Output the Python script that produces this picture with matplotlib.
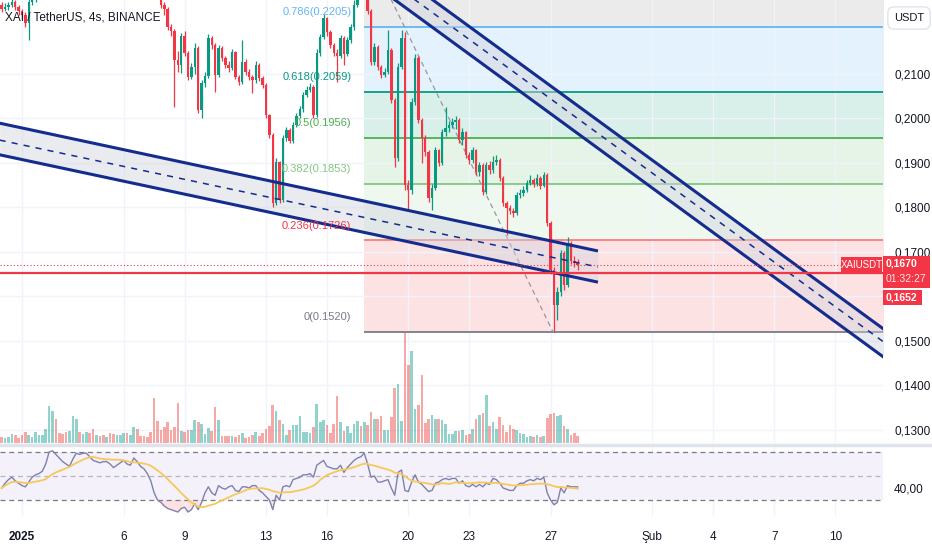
# -*- coding: utf-8 -*-
"""
XAI / TetherUS 4s grafiği: mumlar, hacim, fibonacci seviyeleri, iki kanal ve RSI.
"""
import numpy as np
import pandas as pd
import matplotlib
matplotlib.use("Agg")
import matplotlib.pyplot as plt
from matplotlib.lines import Line2D
from matplotlib.patches import Rectangle

plt.rcParams["font.family"] = ["Liberation Sans", "DejaVu Sans"]

W, H = 932, 550

# 4 saatlik mumlar, 31 Ara 00:00'dan 28 Oca 08:00'e
first_open = 0.2255
closes = [
    .2245, .2250, .2254, .2262, .2250, .2240, .2232, .2215, .2262, .2270,
    .2280, .2290, .2300, .2330, .2400, .2450, .2430, .2415, .2400, .2390,
    .2400, .2450, .2490, .2475, .2485, .2495, .2480, .2465, .2470, .2460,
    .2455, .2465, .2450, .2440, .2450, .2460, .2470, .2455, .2460, .2480,
    .2465, .2450, .2435, .2415, .2390, .2350, .2300, .2255, .2245, .2205,
    .2195, .2130, .2120, .2185, .2147, .2093, .2115, .2158, .2019, .2080,
    .2095, .2180, .2165, .2097, .2158, .2135, .2120, .2113, .2149, .2093,
    .2082, .2126, .2104, .2093, .2086, .2120, .2090, .2075, .2007, .1962,
    .1810, .1902, .1817, .1956, .1974, .1950, .1985, .2005, .2020, .2052,
    .2064, .2070, .2007, .2147, .2183, .2225, .2194, .2165, .2147, .2140,
    .2180, .2145, .2175, .2205, .2255, .2330, .2300, .2360, .2240, .2127,
    .2160, .2115, .2097, .2105, .2153, .2041, .1911, .2115, .2180, .1850,
    .1839, .2037, .2135, .1996, .1956, .1924, .1821, .1843, .1929, .1900,
    .1969, .1978, .1985, .1992, .1996, .1951, .1969, .1918, .1906, .1929,
    .1879, .1895, .1834, .1895, .1884, .1902, .1906, .1866, .1810, .1799,
    .1792, .1787, .1828, .1832, .1839, .1855, .1861, .1852, .1866, .1848,
    .1873, .1765, .1659, .1581, .1610, .1697, .1626, .1720, .1680, .1675,
    .1670]
highs = [
    .2262, .2258, .2262, .2270, .2266, .2255, .2246, .2238, .2272, .2285,
    .2295, .2305, .2318, .2345, .2420, .2475, .2460, .2440, .2425, .2410,
    .2415, .2465, .2510, .2500, .2495, .2510, .2505, .2485, .2480, .2478,
    .2468, .2475, .2470, .2455, .2460, .2470, .2480, .2475, .2470, .2495,
    .2485, .2470, .2455, .2440, .2420, .2395, .2355, .2305, .2262, .2250,
    .2212, .2200, .2150, .2192, .2195, .2150, .2125, .2170, .2162, .2085,
    .2105, .2190, .2185, .2170, .2165, .2162, .2140, .2128, .2155, .2152,
    .2098, .2176, .2132, .2110, .2098, .2128, .2125, .2095, .2080, .2010,
    .1966, .1910, .1905, .1962, .1980, .1978, .1992, .2012, .2028, .2060,
    .2072, .2080, .2075, .2155, .2190, .2235, .2228, .2198, .2170, .2155,
    .2188, .2185, .2182, .2212, .2266, .2345, .2350, .2392, .2370, .2245,
    .2170, .2165, .2120, .2112, .2198, .2158, .2045, .2125, .2198, .2194,
    .1862, .2045, .2145, .2140, .2000, .1962, .1928, .1852, .1935, .1932,
    .1975, .2025, .1995, .2000, .2005, .2000, .1978, .1972, .1925, .1935,
    .1932, .1902, .1900, .1902, .1905, .1915, .1918, .1910, .1870, .1815,
    .1805, .1798, .1835, .1842, .1848, .1862, .1872, .1866, .1875, .1870,
    .1880, .1876, .1770, .1665, .1620, .1705, .1702, .1733, .1725, .1690,
    .1685]
lows = [
    .2238, .2240, .2244, .2250, .2244, .2232, .2225, .2205, .2176, .2255,
    .2262, .2276, .2285, .2295, .2325, .2390, .2420, .2400, .2385, .2375,
    .2380, .2395, .2440, .2460, .2465, .2480, .2470, .2450, .2455, .2450,
    .2440, .2448, .2440, .2430, .2435, .2445, .2455, .2445, .2448, .2455,
    .2455, .2440, .2425, .2405, .2380, .2335, .2285, .2248, .2232, .2198,
    .2185, .2025, .2105, .2102, .2140, .2085, .2088, .2100, .2012, .2000,
    .2070, .2090, .2155, .2060, .2092, .2128, .2112, .2105, .2108, .2088,
    .2075, .2078, .2098, .2086, .2057, .2080, .2084, .2068, .2000, .1955,
    .1800, .1805, .1810, .1812, .1950, .1945, .1945, .1980, .2000, .2015,
    .2048, .2058, .2000, .2002, .2140, .2178, .2185, .2158, .2140, .2082,
    .2135, .2120, .2140, .2170, .2198, .2250, .2290, .2295, .2235, .2120,
    .2120, .2108, .2090, .2092, .2100, .2035, .1890, .1905, .2110, .1840,
    .1794, .1830, .2030, .1990, .1900, .1915, .1812, .1794, .1838, .1892,
    .1895, .1960, .1970, .1978, .1975, .1945, .1940, .1910, .1898, .1900,
    .1872, .1870, .1828, .1830, .1875, .1878, .1895, .1860, .1802, .1738,
    .1785, .1778, .1782, .1822, .1826, .1835, .1850, .1845, .1848, .1842,
    .1845, .1758, .1650, .1520, .1547, .1600, .1615, .1620, .1672, .1665,
    .1660]
volumes = [
    18, 15, 18, 26, 23, 15, 23, 33, 23, 18,
    33, 23, 23, 43, 110, 95, 71, 31, 28, 33,
    36, 81, 71, 33, 26, 33, 31, 43, 23, 20,
    23, 17, 31, 27, 23, 23, 31, 31, 23, 48,
    43, 20, 20, 17, 33, 135, 65, 40, 48, 62,
    40, 48, 120, 37, 33, 40, 40, 68, 63, 56,
    27, 46, 37, 107, 68, 20, 20, 20, 20, 17,
    23, 30, 14, 17, 23, 33, 20, 31, 43, 50,
    113, 97, 68, 56, 23, 40, 53, 53, 81, 33,
    33, 30, 48, 117, 63, 69, 53, 30, 56, 140,
    63, 37, 50, 30, 56, 66, 50, 63, 53, 94,
    72, 72, 81, 40, 40, 78, 165, 177, 66, 330,
    234, 276, 101, 114, 203, 59, 72, 84, 72, 72,
    69, 56, 27, 27, 37, 37, 40, 24, 27, 43,
    72, 84, 91, 143, 50, 63, 43, 78, 53, 34,
    53, 43, 40, 30, 27, 18, 21, 18, 24, 18,
    21, 75, 88, 91, 81, 84, 50, 43, 24, 30,
    21]
rsi_values = [
    40, 44, 47, 49, 46, 44, 42, 41, 45, 49,
    51, 52, 54, 60, 70, 71, 68, 65, 62, 60,
    58, 64, 69, 68, 69, 69, 66, 63, 62, 61,
    62, 62, 60, 57, 59, 61, 63, 60, 59, 65,
    62, 58, 56, 52, 46, 36, 30, 28, 25, 23,
    22, 21, 20, 23, 24, 20, 22, 27, 22, 28,
    36, 41, 36, 34, 42, 40, 39, 41, 42, 38,
    37, 41, 41, 40, 42, 42, 38, 36, 33, 30,
    22, 34, 30, 41, 42, 41, 47, 48, 49, 51,
    51, 52, 49, 59, 61, 63, 58, 57, 56, 56,
    59, 53, 57, 60, 63, 65, 66, 69, 60, 49,
    50, 45, 45, 46, 47, 40, 34, 53, 55, 38,
    37, 45, 51, 45, 43, 40, 37, 38, 44, 45,
    47, 48, 47, 48, 48, 44, 46, 42, 41, 43,
    41, 43, 41, 44, 43, 48, 47, 44, 40, 39,
    38, 38, 42, 44, 44, 46, 47, 46, 48, 47,
    49, 36, 30, 26, 28, 40, 36, 42, 41, 41,
    41]

current_price = 0.1670
line_price = 0.1652
countdown = "01:32:27"

date_ticks = [0, 5, 8, 12, 15, 19, 22, 26, 31, 34, 37, 40]
date_labels = ["2025", "6", "9", "13", "16", "20", "23", "27", "Şub", "4", "7", "10"]
price_ticks = [0.13, 0.14, 0.15, 0.16, 0.17, 0.18, 0.19, 0.20, 0.21]
hidden_tick = 0.16  # fiyat etiketlerinin altında kalıyor

fib_ratios = ["0", "0.236", "0.382", "0.5", "0.618", "0.786", "1"]
fib_prices = [0.1520, 0.1726, 0.1853, 0.1956, 0.2059, 0.2205, 0.2392]
fib_line_colors = ["#787b86", "#f77c80", "#81c784", "#4caf50", "#089981", "#64b5f6", "#787b86"]
fib_text_colors = ["#787b86", "#f23645", "#81c784", "#4caf50", "#089981", "#64b5f6", "#787b86"]
fib_fill_colors = ["#fde2e4", "#eff8ef", "#e6f4e7", "#d9efea", "#e4f2fd", "#ebebeb"]
fib_start, fib_end, fib_low_day = 16.82, 43.0, 26.12

# kanallar (gün, fiyat)
ch1_days = [-1.1, 28.33]
ch1_upper = [0.1989, 0.1702]
ch1_mid = [0.1951, 0.1666]
ch1_lower = [0.1918, 0.1632]
ch2_days = [17.5, 43.0]
ch2_upper = [0.2356, 0.1506]
ch2_mid = [0.2327, 0.1477]
ch2_lower = [0.2294, 0.1443]

GREEN, RED = "#089981", "#f23645"
CHAN = "#142c8e"
TXT = "#131722"


def px_fig(x, y):
    return x / W, 1 - y / H


def fmt_price(v):
    return ("%.4f" % v).replace(".", ",")


def plot_price(ax):
    n = len(closes)
    days = np.arange(n) / 6.0 - 1.0
    opens = [first_open] + closes[:-1]
    up = [c >= o for o, c in zip(opens, closes)]
    colors = [GREEN if u else RED for u in up]

    # fibonacci
    for k in range(len(fib_fill_colors)):
        ax.fill_between([fib_start, fib_end], fib_prices[k], fib_prices[k + 1],
                        color=fib_fill_colors[k], lw=0, zorder=0.5)
    for k, p in enumerate(fib_prices):
        ax.hlines(p, fib_start, fib_end, color=fib_line_colors[k], lw=1.3, zorder=2)
        if p < 0.226:
            ax.annotate("%s(%.4f)" % (fib_ratios[k], p), xy=(fib_start, p),
                        xytext=(-9, 7), textcoords="offset points",
                        ha="right", va="bottom", fontsize=8,
                        color=fib_text_colors[k], zorder=6)
    ax.plot([fib_start, fib_low_day], [fib_prices[-1], fib_prices[0]],
            color="#9598a1", lw=0.9, ls=(0, (4, 3)), zorder=2)

    # hacim (alt kısım, eksen oranı olarak)
    vol_top = 1330.0
    vol_colors = ["#26a69a" if u else "#ef5350" for u in up]
    ax.bar(days, [v / vol_top for v in volumes], width=0.13, bottom=0,
           color=vol_colors, alpha=0.5, lw=0, zorder=1,
           transform=ax.get_xaxis_transform())

    # kanal dolguları
    ax.fill_between(ch1_days, ch1_lower, ch1_upper, color="#d1d4dc", alpha=0.45, lw=0, zorder=2.2)
    ax.fill_between(ch2_days, ch2_lower, ch2_upper, color="#d1d4dc", alpha=0.45, lw=0, zorder=2.2)

    # mumlar
    ax.vlines(days, lows, highs, colors=colors, lw=0.9, zorder=3)
    bottoms = [min(o, c) for o, c in zip(opens, closes)]
    heights = [max(abs(c - o), 0.00012) for o, c in zip(opens, closes)]
    ax.bar(days, heights, bottom=bottoms, width=0.12, color=colors, lw=0, zorder=4)

    # kanal çizgileri
    for d, up_, mid, lo in [(ch1_days, ch1_upper, ch1_mid, ch1_lower),
                            (ch2_days, ch2_upper, ch2_mid, ch2_lower)]:
        ax.plot(d, up_, color=CHAN, lw=2.2, zorder=5, solid_capstyle="butt")
        ax.plot(d, lo, color=CHAN, lw=2.2, zorder=5, solid_capstyle="butt")
        ax.plot(d, mid, color=CHAN, lw=1.1, ls=(0, (4, 4)), zorder=5)

    ax.axhline(line_price, color=RED, lw=1.6, zorder=5)
    ax.axhline(current_price, color=RED, lw=0.8, ls=(0, (1, 2)), zorder=5)


fig = plt.figure(figsize=(W / 100, H / 100), dpi=100)
fig.patch.set_facecolor("white")
right = 883 / W
ax = fig.add_axes([0, 1 - 443 / H, right, 443 / H])
rsi_ax = fig.add_axes([0, 1 - 516 / H, right, 70 / H], sharex=ax)

plot_price(ax)
ax.set_xlim(-1.082, 42.35)
ax.set_ylim(0.12708, 0.22656)
ax.yaxis.tick_right()
ax.set_yticks(price_ticks)
ax.set_yticklabels(["" if abs(v - hidden_tick) < 1e-9 else fmt_price(v) for v in price_ticks])
ax.set_xticks(date_ticks)
ax.tick_params(axis="y", length=0, pad=8, labelsize=8.5, labelcolor=TXT)
ax.tick_params(axis="x", length=0, labelbottom=False)
ax.grid(True, color="#f0f3fa", lw=1, zorder=0)
ax.set_axisbelow(True)
for s in ax.spines.values():
    s.set_visible(False)

# RSI
days = np.arange(len(rsi_values)) / 6.0 - 1.0
rsi = np.array(rsi_values, dtype=float)
rsi_ma = pd.Series(rsi).rolling(14, min_periods=1).mean()
rsi_ax.axhspan(30, 70, color="#7e57c2", alpha=0.08, lw=0)
for lvl, a in [(70, 1.0), (50, 0.5), (30, 1.0)]:
    rsi_ax.axhline(lvl, color="#787b86", lw=0.9, ls=(0, (4, 3)), alpha=a)
rsi_ax.fill_between(days, rsi, 30, where=rsi < 30, interpolate=True,
                    color=RED, alpha=0.15, lw=0)
rsi_ax.plot(days, rsi, color="#7d82ad", lw=1.0)
rsi_ax.plot(days, rsi_ma, color="#f7c85a", lw=1.3)
rsi_ax.set_ylim(16.7, 75)
rsi_ax.yaxis.tick_right()
rsi_ax.set_yticks([40])
rsi_ax.set_yticklabels(["40,00"])
rsi_ax.set_xticks(date_ticks)
rsi_ax.set_xticklabels(date_labels)
rsi_ax.tick_params(axis="both", length=0, labelsize=8.5, labelcolor=TXT)
rsi_ax.tick_params(axis="x", pad=11)
rsi_ax.tick_params(axis="y", pad=8)
rsi_ax.get_xticklabels()[0].set_fontweight("bold")
rsi_ax.grid(True, axis="x", color="#f0f3fa", lw=1)
for s in rsi_ax.spines.values():
    s.set_visible(False)

# bölme çizgisi
fig.add_artist(Line2D([0, 1], [1 - 444.5 / H] * 2, color="#e0e3eb", lw=2.5,
                      transform=fig.transFigure))

# başlık
x0, y0 = px_fig(5, 17)
fig.text(x0, y0, "XAI / TetherUS, 4s, BINANCE", fontsize=8.5, color=TXT,
         va="center", ha="left", zorder=10)

# USDT kutusu
x0, y0 = px_fig(909, 18)
fig.text(x0, y0, "USDT", fontsize=8, color=TXT, ha="center", va="center",
         bbox=dict(boxstyle="round,pad=0.55", fc="white", ec="#e0e3eb", lw=1))


def red_box(x1, y1, x2, y2):
    fx, fy = px_fig(x1, y2)
    fig.add_artist(Rectangle((fx, fy), (x2 - x1) / W, (y2 - y1) / H,
                             transform=fig.transFigure, fc=RED, ec="none", zorder=8))


red_box(883, 256, 930, 288)
red_box(883, 290, 922, 305)
red_box(841, 257, 882, 273)
labels = [(886, 264, fmt_price(current_price), "bold", "left", 7.5, "white"),
          (886, 279, countdown, "normal", "left", 7.5, "#ffe3e5"),
          (886, 297.5, fmt_price(line_price), "bold", "left", 7.5, "white"),
          (861.5, 265, "XAIUSDT", "normal", "center", 7, "white")]
for tx, ty, s, w, ha, fs, col in labels:
    fx, fy = px_fig(tx, ty)
    fig.text(fx, fy, s, color=col, fontsize=fs, fontweight=w, ha=ha,
             va="center", zorder=9)

fig.savefig("out.png", dpi=100)
